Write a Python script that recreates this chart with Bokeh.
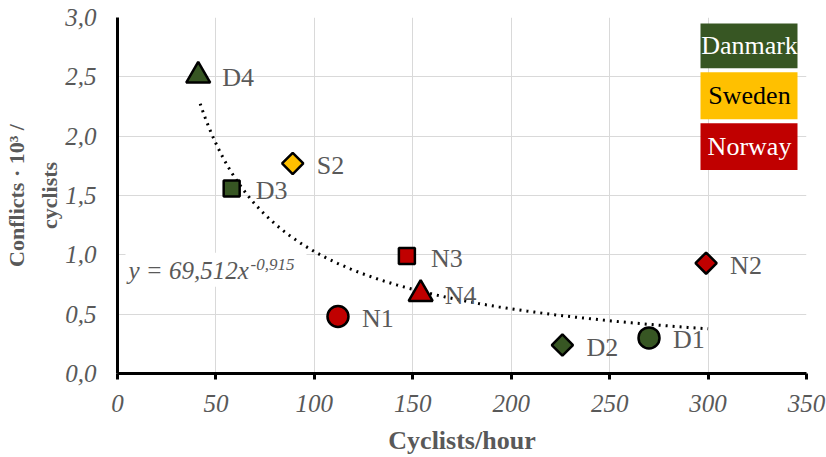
import numpy as np
from bokeh.plotting import figure
from bokeh.models import Range1d, FixedTicker, CustomJSTickFormatter, ColumnDataSource
from bokeh.core.properties import value
from bokeh.embed import file_html
from bokeh.resources import INLINE

# ---------------- data ----------------
labels = ["D1", "D2", "D3", "D4", "S2", "N1", "N2", "N3", "N4"]
cyclists_per_hour = [270, 226, 58, 41, 89, 112, 299, 147, 154]
conflicts = [0.30, 0.24, 1.56, 2.51, 1.77, 0.48, 0.93, 0.99, 0.67]
country = ["Danmark", "Danmark", "Danmark", "Danmark", "Sweden",
           "Norway", "Norway", "Norway", "Norway"]
shape = ["circle", "diamond", "square", "triangle", "diamond",
         "circle", "diamond", "square", "triangle"]

countries = ["Danmark", "Sweden", "Norway"]
x_ticks = [0, 50, 100, 150, 200, 250, 300, 350]
y_ticks = [0.0, 0.5, 1.0, 1.5, 2.0, 2.5, 3.0]

# power trend line y = a * x^b
trend_a = 69.512
trend_b = -0.915
trend_x_min, trend_x_max = 42, 300
equation_main = "y = 69,512x"
equation_exp = "-0,915"

# ---------------- styles ----------------
country_color = {"Danmark": "#375623", "Sweden": "#FFC000", "Norway": "#C00000"}
legend_text_color = {"Danmark": "white", "Sweden": "black", "Norway": "white"}
shape_marker = {"circle": "circle", "diamond": "square", "square": "square", "triangle": "triangle"}
shape_size = {"circle": 21, "diamond": 15, "square": 16, "triangle": 24}
shape_angle = {"circle": 0.0, "diamond": np.pi / 4, "square": 0.0, "triangle": 0.0}

GREY = "#595959"
FONT = "Liberation Serif"

p = figure(width=826, height=457, output_backend="svg", toolbar_location=None,
           x_range=Range1d(0, 350), y_range=Range1d(0, 3),
           min_border_left=117, min_border_right=20, min_border_top=17, min_border_bottom=83)
p.outline_line_color = None
p.background_fill_color = "white"
p.border_fill_color = "white"

# grid
p.xgrid.grid_line_color = "#D9D9D9"
p.ygrid.grid_line_color = "#D9D9D9"
p.xgrid.grid_line_width = 1
p.ygrid.grid_line_width = 1

# axes
p.xaxis.ticker = FixedTicker(ticks=x_ticks)
p.yaxis.ticker = FixedTicker(ticks=y_ticks)
p.yaxis.formatter = CustomJSTickFormatter(code="return tick.toFixed(1).replace('.', ',');")
for ax in (p.xaxis[0], p.yaxis[0]):
    ax.axis_line_color = "black"
    ax.axis_line_width = 3
    ax.minor_tick_line_color = None
    ax.major_label_text_font = FONT
    ax.major_label_text_font_style = "italic"
    ax.major_label_text_font_size = "25px"
    ax.major_label_text_color = GREY
    ax.axis_label_text_font = FONT
    ax.axis_label_text_font_style = "bold"
    ax.axis_label_text_color = GREY

p.xaxis.major_tick_out = 6
p.xaxis.major_tick_in = 0
p.xaxis.major_tick_line_width = 3
p.xaxis.major_label_standoff = 15
p.xaxis.axis_label = "Cyclists/hour"
p.xaxis.axis_label_text_font_size = "26px"
p.xaxis.axis_label_standoff = 11

p.yaxis.major_tick_out = 0
p.yaxis.major_tick_in = 0
p.yaxis.major_tick_line_color = None
p.yaxis.major_label_standoff = 21
p.yaxis.axis_label = "Conflicts · 10³ /\ncyclists"
p.yaxis.axis_label_text_font_size = "22px"
p.yaxis.axis_label_standoff = 0
p.yaxis.axis_label_text_line_height = 1.35

# helpers converting reference pixel layout to data units
X0, X1, Y0, Y1 = 117.0, 806.0, 374.0, 17.0
def px_x(px):
    return (px - X0) / (X1 - X0) * 350.0
def px_y(py):
    return (Y0 - py) / (Y0 - Y1) * 3.0

# equation background box (white)
p.quad(left=[px_x(125)], right=[px_x(306)], top=[px_y(253)], bottom=[px_y(287)],
       fill_color="white", line_color=None)

# trend line
tx = np.linspace(trend_x_min, trend_x_max, 200)
ty = trend_a * tx ** trend_b
p.line(tx, ty, line_color="black", line_width=3, line_dash="2 5")

# equation text
p.text(x=[px_x(128)], y=[px_y(271)], text=[equation_main], text_font=value(FONT),
       text_font_style="italic", text_font_size="25px", text_color=GREY,
       text_baseline="middle", text_align="left")
p.text(x=[px_x(250)], y=[px_y(265)], text=[equation_exp], text_font=value(FONT),
       text_font_style="italic", text_font_size="17px", text_color=GREY,
       text_baseline="middle", text_align="left")

# points
src = ColumnDataSource(dict(
    x=cyclists_per_hour, y=conflicts, label=labels,
    color=[country_color[c] for c in country],
    marker=[shape_marker[s] for s in shape],
    size=[shape_size[s] for s in shape],
    angle=[shape_angle[s] for s in shape],
))
p.scatter(x="x", y="y", marker="marker", size="size", angle="angle", source=src,
          fill_color="color", line_color="black", line_width=2.5)
p.text(x="x", y="y", text="label", source=src, x_offset=24, y_offset=2,
       text_font=value(FONT), text_font_size="26px", text_color=GREY,
       text_baseline="middle", text_align="left")

# legend boxes (top right)
box_tops = [23, 72, 123]
box_bottoms = [68, 119, 170]
lsrc = ColumnDataSource(dict(
    left=[px_x(700)] * 3, right=[px_x(797)] * 3,
    top=[px_y(t) for t in box_tops], bottom=[px_y(b) for b in box_bottoms],
    xc=[px_x(749)] * 3, yc=[px_y((t + b) / 2) for t, b in zip(box_tops, box_bottoms)],
    name=countries, color=[country_color[c] for c in countries],
    tcolor=[legend_text_color[c] for c in countries],
))
p.quad(left="left", right="right", top="top", bottom="bottom", source=lsrc,
       fill_color="color", line_color=None)
p.text(x="xc", y="yc", text="name", source=lsrc, text_color="tcolor",
       text_font=value(FONT), text_font_size="26px",
       text_baseline="middle", text_align="center")

open("out.html", "w").write(file_html(p, INLINE))
